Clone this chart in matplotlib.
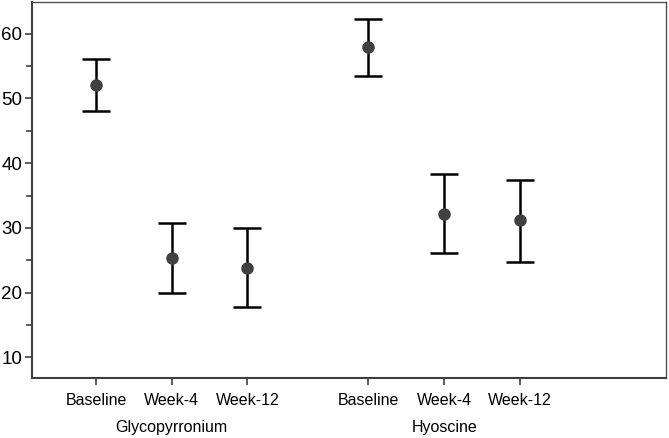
import numpy as np
import matplotlib.pyplot as plt
from matplotlib.ticker import MultipleLocator

plt.rcParams['font.family'] = ['Liberation Sans', 'DejaVu Sans']

# values
timepoints = ['Baseline', 'Week-4', 'Week-12']
groups = ['Glycopyrronium', 'Hyoscine']
means = [52.0, 25.3, 23.8, 58.0, 32.2, 31.2]
upper = [56.1, 30.8, 30.0, 62.3, 38.3, 37.4]
lower = [48.0, 20.0, 17.7, 53.4, 26.1, 24.8]

pos = np.array([1, 2, 3, 4.6, 5.6, 6.6])
means = np.array(means)
err = np.array([means - np.array(lower), np.array(upper) - means])

fig = plt.figure(figsize=(6.69, 4.38), dpi=100)
ax = fig.add_axes([32 / 669, 60 / 438, 634 / 669, 376 / 438])

ax.errorbar(pos, means, yerr=err, fmt='o', color='#404040', ms=8,
            ecolor='black', elinewidth=1.8, capsize=10, capthick=1.8)

ax.set_xlim(0.155, 8.53)
ax.set_ylim(6.8, 64.9)
ax.yaxis.set_major_locator(MultipleLocator(10))
ax.yaxis.set_minor_locator(MultipleLocator(5))
ax.set_xticks(pos)
ax.set_xticklabels(timepoints * 2)

ax.tick_params(axis='both', which='major', length=5,
               width=1.2, color='#404040')
ax.tick_params(axis='x', labelsize=11.5, pad=6)
ax.tick_params(axis='y', labelsize=13.5, pad=2)
ax.tick_params(axis='y', which='minor', length=4, width=1.2, color='#404040')

for s in ['left', 'bottom']:
    ax.spines[s].set_linewidth(1.5)
    ax.spines[s].set_color('#404040')
for s in ['top', 'right']:
    ax.spines[s].set_linewidth(1.0)
    ax.spines[s].set_color('#505050')

for i, g in enumerate(groups):
    ax.text(pos[i * 3 + 1], -0.131, g, transform=ax.get_xaxis_transform(),
            ha='center', va='center', fontsize=11.5)

fig.savefig('out.png', dpi=100)
